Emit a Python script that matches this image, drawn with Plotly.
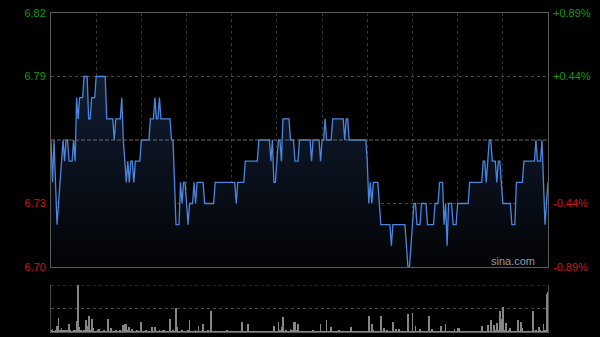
import plotly.graph_objects as go

# ---------------- data ----------------
minutes = list(range(331))

prices = [
    6.76, 6.74, 6.76, 6.74, 6.72, 6.73, 6.74, 6.75, 6.76, 6.75,
    6.76, 6.76, 6.75, 6.75, 6.75, 6.76, 6.75, 6.78, 6.77, 6.78,
    6.78, 6.78, 6.79, 6.79, 6.79, 6.77, 6.77, 6.78, 6.78, 6.78,
    6.79, 6.79, 6.79, 6.79, 6.79, 6.79, 6.79, 6.77, 6.77, 6.77,
    6.77, 6.77, 6.76, 6.77, 6.77, 6.77, 6.77, 6.78, 6.76, 6.75,
    6.74, 6.75, 6.74, 6.75, 6.75, 6.74, 6.75, 6.75, 6.75, 6.75,
    6.76, 6.76, 6.76, 6.76, 6.76, 6.76, 6.77, 6.77, 6.77, 6.78,
    6.77, 6.77, 6.78, 6.77, 6.77, 6.77, 6.77, 6.77, 6.77, 6.77,
    6.76, 6.76, 6.74, 6.72, 6.72, 6.72, 6.74, 6.73, 6.74, 6.74,
    6.73, 6.72, 6.73, 6.73, 6.73, 6.74, 6.73, 6.74, 6.74, 6.74,
    6.74, 6.74, 6.73, 6.73, 6.73, 6.73, 6.73, 6.73, 6.73, 6.74,
    6.74, 6.74, 6.74, 6.74, 6.74, 6.74, 6.74, 6.74, 6.74, 6.74,
    6.74, 6.74, 6.74, 6.73, 6.74, 6.74, 6.74, 6.74, 6.74, 6.75,
    6.75, 6.75, 6.75, 6.75, 6.75, 6.75, 6.75, 6.75, 6.76, 6.76,
    6.76, 6.76, 6.76, 6.76, 6.76, 6.76, 6.75, 6.76, 6.74, 6.74,
    6.75, 6.76, 6.76, 6.75, 6.77, 6.77, 6.77, 6.77, 6.77, 6.76,
    6.76, 6.76, 6.75, 6.75, 6.75, 6.76, 6.76, 6.76, 6.76, 6.76,
    6.76, 6.76, 6.76, 6.75, 6.76, 6.76, 6.76, 6.76, 6.76, 6.75,
    6.76, 6.76, 6.77, 6.76, 6.76, 6.76, 6.76, 6.77, 6.77, 6.77,
    6.77, 6.77, 6.77, 6.77, 6.77, 6.76, 6.77, 6.77, 6.76, 6.76,
    6.76, 6.76, 6.76, 6.76, 6.76, 6.76, 6.76, 6.76, 6.76, 6.76,
    6.75, 6.73, 6.74, 6.73, 6.74, 6.74, 6.74, 6.74, 6.73, 6.72,
    6.72, 6.72, 6.72, 6.72, 6.72, 6.72, 6.71, 6.72, 6.72, 6.72,
    6.72, 6.72, 6.72, 6.72, 6.72, 6.72, 6.71, 6.70, 6.70, 6.71,
    6.72, 6.73, 6.73, 6.72, 6.72, 6.72, 6.73, 6.73, 6.73, 6.73,
    6.72, 6.72, 6.72, 6.72, 6.72, 6.73, 6.73, 6.73, 6.74, 6.74,
    6.74, 6.72, 6.73, 6.71, 6.73, 6.73, 6.73, 6.72, 6.72, 6.72,
    6.73, 6.73, 6.73, 6.73, 6.73, 6.73, 6.73, 6.73, 6.74, 6.74,
    6.74, 6.74, 6.74, 6.74, 6.74, 6.74, 6.74, 6.75, 6.75, 6.74,
    6.75, 6.76, 6.76, 6.75, 6.75, 6.75, 6.74, 6.75, 6.75, 6.74,
    6.73, 6.73, 6.73, 6.73, 6.73, 6.73, 6.72, 6.72, 6.72, 6.74,
    6.74, 6.74, 6.74, 6.74, 6.75, 6.75, 6.75, 6.75, 6.75, 6.75,
    6.75, 6.75, 6.76, 6.75, 6.75, 6.75, 6.76, 6.74, 6.72, 6.73,
    6.74,
]

volumes = [
    3, 6, 2, 3, 13, 29, 3, 8, 4, 3,
    5, 3, 17, 4, 2, 5, 3, 23, 100, 10,
    3, 2, 3, 26, 13, 34, 3, 27, 8, 2,
    2, 3, 7, 2, 2, 3, 2, 2, 27, 2,
    8, 2, 2, 3, 2, 2, 3, 2, 15, 16,
    17, 3, 10, 2, 6, 2, 2, 3, 2, 2,
    21, 2, 2, 3, 2, 2, 2, 10, 2, 10,
    2, 2, 3, 2, 4, 4, 2, 2, 2, 27,
    2, 3, 2, 50, 11, 2, 2, 3, 2, 2,
    2, 3, 26, 2, 2, 2, 3, 2, 13, 2,
    2, 17, 2, 2, 3, 2, 45, 2, 2, 2,
    1, 2, 1, 1, 2, 1, 1, 4, 1, 1,
    2, 1, 1, 2, 1, 1, 2, 21, 1, 1,
    2, 17, 1, 2, 1, 1, 2, 1, 1, 2,
    1, 1, 2, 1, 1, 2, 1, 2, 13, 2,
    2, 21, 3, 10, 31, 2, 3, 2, 2, 6,
    3, 21, 21, 3, 18, 2, 2, 1, 2, 1,
    1, 2, 1, 1, 3, 1, 1, 2, 1, 17,
    1, 2, 1, 26, 2, 1, 11, 1, 2, 1,
    1, 4, 1, 1, 2, 1, 1, 1, 2, 11,
    1, 1, 2, 1, 1, 1, 2, 1, 1, 1,
    2, 34, 1, 17, 3, 1, 2, 1, 1, 34,
    2, 9, 2, 4, 1, 1, 2, 22, 2, 6,
    2, 7, 1, 1, 2, 1, 2, 38, 2, 1,
    41, 2, 13, 1, 2, 6, 1, 1, 2, 1,
    2, 34, 1, 6, 1, 1, 2, 1, 1, 13,
    1, 2, 17, 1, 1, 2, 1, 1, 7, 2,
    8, 8, 1, 2, 1, 1, 1, 2, 1, 1,
    1, 2, 1, 1, 2, 1, 13, 1, 2, 1,
    15, 2, 26, 2, 15, 3, 20, 4, 45, 27,
    54, 3, 20, 2, 3, 8, 2, 1, 2, 2,
    26, 2, 21, 8, 2, 1, 2, 1, 2, 2,
    45, 2, 3, 2, 11, 4, 2, 17, 3, 81,
    86,
]

prev_close = 6.76
price_ticks = [6.70, 6.73, 6.79, 6.82]
price_labels = ["6.70", "6.73", "6.79", "6.82"]
pct_labels = ["-0.89%", "-0.44%", "+0.44%", "+0.89%"]
time_grid = [30, 60, 90, 120, 150, 180, 210, 240, 270, 300]
vol_max = 100

GREEN = "#129a12"
RED = "#cc1616"


def colored(labels, vals):
    out = []
    for lab, v in zip(labels, vals):
        c = GREEN if v > prev_close else RED
        out.append(f'<span style="color:{c}">{lab}</span>')
    return out


fig = go.Figure()

fig.add_trace(go.Scatter(
    x=minutes, y=prices, mode="lines",
    line=dict(color="#4a86e0", width=1.3),
    fill="tozeroy",
    fillgradient=dict(type="vertical",
                      colorscale=[[0, "#030406"], [1, "#111d32"]],
                      start=6.70, stop=6.79),
    xaxis="x", yaxis="y", hoverinfo="skip", showlegend=False,
))

fig.add_trace(go.Scatter(
    x=[minutes[0]], y=[prev_close], mode="markers",
    marker=dict(opacity=0), xaxis="x", yaxis="y2",
    hoverinfo="skip", showlegend=False,
))

fig.add_trace(go.Bar(
    x=minutes, y=volumes, marker=dict(color="#858585", line=dict(width=0)),
    width=0.5, xaxis="x2", yaxis="y3", hoverinfo="skip", showlegend=False,
))

font = dict(family="Liberation Sans, Arial, sans-serif", size=11)
main_dom = [0.2038, 1.0]
vol_dom = [0.0, 0.1473]

fig.update_layout(
    template="none",
    width=600, height=337, autosize=False,
    paper_bgcolor="#000000", plot_bgcolor="#000000",
    margin=dict(l=51, r=52, t=13, b=5, pad=0),
    showlegend=False, font=font, bargap=0,
    xaxis=dict(domain=[0, 1], anchor="y", range=[0, 330], automargin=False,
               tickvals=time_grid, showticklabels=False, ticks="",
               showgrid=True, gridcolor="#333333", griddash="dot", gridwidth=1,
               showline=True, mirror=True, linecolor="#5a5a5a", linewidth=1,
               zeroline=False),
    yaxis=dict(domain=main_dom, anchor="x", range=[6.70, 6.82], automargin=False,
               tickvals=price_ticks, ticktext=colored(price_labels, price_ticks),
               ticks="", showgrid=True, gridcolor="#4a4a4a", griddash="dot",
               showline=True, mirror=True, linecolor="#5a5a5a", linewidth=1,
               zeroline=False, tickfont=font, ticklabelstandoff=2),
    yaxis2=dict(overlaying="y", side="right", anchor="x", range=[6.70, 6.82],
                automargin=False,
                tickvals=price_ticks, ticktext=colored(pct_labels, price_ticks),
                ticks="", showgrid=False, showline=False, zeroline=False,
                tickfont=font, ticklabelstandoff=4),
    xaxis2=dict(domain=[0, 1], anchor="y3", range=[0, 330], automargin=False,
                showticklabels=False, ticks="", showgrid=False,
                showline=True, linecolor="#5a5a5a", linewidth=1, zeroline=False),
    yaxis3=dict(domain=vol_dom, anchor="x2", range=[0, vol_max], automargin=False,
                tickvals=[vol_max / 2], showticklabels=False, ticks="",
                showgrid=True, gridcolor="#4a4a4a", griddash="dot",
                showline=True, mirror=True, linecolor="#4a4a4a", linewidth=1,
                zeroline=False),
    shapes=[
        dict(type="line", xref="x domain", yref="y", x0=0, x1=1,
             y0=prev_close, y1=prev_close,
             line=dict(color="#6a6a6a", width=1, dash="4px,2px")),
        dict(type="line", xref="x2 domain", yref="y3", x0=0, x1=1,
             y0=vol_max, y1=vol_max,
             line=dict(color="#4a4a4a", width=1, dash="dot")),
    ],
    annotations=[dict(text="sina.com", xref="paper", yref="paper",
                      x=0.978, y=0.2226, xanchor="right", yanchor="middle",
                      showarrow=False,
                      font=dict(family="Liberation Sans, Arial, sans-serif",
                                size=11, color="#9a9a9a"))],
)

fig.write_html("out.html")
